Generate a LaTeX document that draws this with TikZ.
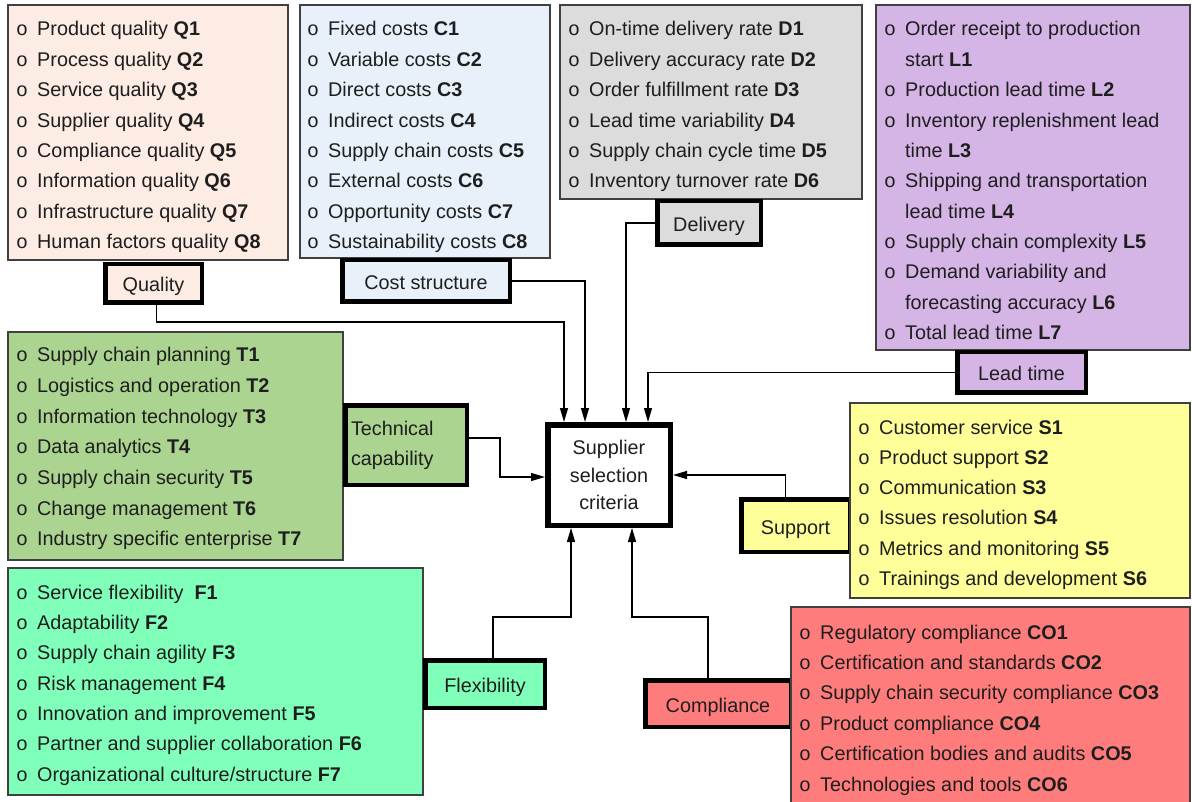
\documentclass[tikz,border=0pt]{standalone}
\usepackage{fontspec}
\setmainfont{Liberation Sans}
\newfontfamily\bulfont{Liberation Mono}
\usetikzlibrary{arrows.meta}
\definecolor{qcol}{RGB}{252,236,228}
\definecolor{ccol}{RGB}{232,241,250}
\definecolor{dcol}{RGB}{220,220,220}
\definecolor{lcol}{RGB}{213,180,230}
\definecolor{tcol}{RGB}{172,212,145}
\definecolor{scol}{RGB}{255,255,153}
\definecolor{fcol}{RGB}{128,255,186}
\definecolor{cocol}{RGB}{255,124,124}
\definecolor{txt}{RGB}{30,30,30}
\newcommand\itemfont{\fontsize{19.8}{24}\selectfont}
\newcommand\bulx{\makebox[21pt][l]{\bulfont o}}
\newcommand\indx{\hspace*{21pt}}
\newcommand\listbox[6]{\node[listbox, fill=#6, minimum width={#4-#2}, minimum height={#5-#3}] (#1) at ({(#2+#4)/2},{(#3+#5)/2}) {};}
\newcommand\labbox[7]{\node[labbox, fill=#6, minimum width={#4-#2-4.5}, minimum height={#5-#3-4.5}] (#1) at ({(#2+#4)/2},{(#3+#5)/2}) {#7};}
\newcommand\itemsat[5]{\foreach \itm [count=\i] in {#5} {\node[itm] (#1\i) at ({#2},{#3+#4*(\i-1)}) {\itm};}}
\tikzset{
  listbox/.style={draw=black!75, line width=1.2pt, inner sep=0pt},
  itm/.style={anchor=base west, inner sep=0pt, font=\itemfont, text=txt},
  labbox/.style={draw=black, line width=4.5pt, inner sep=0pt, text height=19pt, text depth=2pt, font=\itemfont, text=txt},
  conn/.style={line width=1.2pt, draw=black},
  arr/.style={conn, -{Triangle[length=14pt,width=8pt]}}
}
\begin{document}
\begin{tikzpicture}[x=1pt,y=-1pt]
\useasboundingbox[fill=white] (0,0) rectangle (1192,802);

% ---------- list boxes (top row, left) ----------
\listbox{qbox}{8}{5}{288}{260}{qcol}
\itemsat{q}{16}{36}{30.4}{%
{\bulx Product quality \textbf{Q1}},{\bulx Process quality \textbf{Q2}},{\bulx Service quality \textbf{Q3}},{\bulx Supplier quality \textbf{Q4}},{\bulx Compliance quality \textbf{Q5}},{\bulx Information quality \textbf{Q6}},{\bulx Infrastructure quality \textbf{Q7}},{\bulx Human factors quality \textbf{Q8}}}

\listbox{cbox}{300}{5}{550}{258}{ccol}
\itemsat{c}{307}{36}{30.4}{%
{\bulx Fixed costs \textbf{C1}},{\bulx Variable costs \textbf{C2}},{\bulx Direct costs \textbf{C3}},{\bulx Indirect costs \textbf{C4}},{\bulx Supply chain costs \textbf{C5}},{\bulx External costs \textbf{C6}},{\bulx Opportunity costs \textbf{C7}},{\bulx Sustainability costs \textbf{C8}}}

\listbox{dbox}{560}{5}{862}{199}{dcol}
\itemsat{d}{568}{36}{30.4}{%
{\bulx On-time delivery rate \textbf{D1}},{\bulx Delivery accuracy rate \textbf{D2}},{\bulx Order fulfillment rate \textbf{D3}},{\bulx Lead time variability \textbf{D4}},{\bulx Supply chain cycle time \textbf{D5}},{\bulx Inventory turnover rate \textbf{D6}}}

\listbox{lbox}{876}{5}{1190}{350}{lcol}
\itemsat{l}{884}{36}{30.35}{%
{\bulx Order receipt to production},{\indx start \textbf{L1}},{\bulx Production lead time \textbf{L2}},{\bulx Inventory replenishment lead},{\indx time \textbf{L3}},{\bulx Shipping and transportation},{\indx lead time \textbf{L4}},{\bulx Supply chain complexity \textbf{L5}},{\bulx Demand variability and},{\indx forecasting accuracy \textbf{L6}},{\bulx Total lead time \textbf{L7}}}

\listbox{tbox}{8}{332}{343}{560}{tcol}
\itemsat{t}{16}{362}{30.6}{%
{\bulx Supply chain planning \textbf{T1}},{\bulx Logistics and operation \textbf{T2}},{\bulx Information technology \textbf{T3}},{\bulx Data analytics \textbf{T4}},{\bulx Supply chain security \textbf{T5}},{\bulx Change management \textbf{T6}},{\bulx Industry specific enterprise \textbf{T7}}}

\listbox{fbox}{8}{568}{423}{795}{fcol}
\itemsat{f}{16}{599}{30.35}{%
{\bulx Service flexibility\ \ \textbf{F1}},{\bulx Adaptability \textbf{F2}},{\bulx Supply chain agility \textbf{F3}},{\bulx Risk management \textbf{F4}},{\bulx Innovation and improvement \textbf{F5}},{\bulx Partner and supplier collaboration \textbf{F6}},{\bulx Organizational culture/structure \textbf{F7}}}

% ---------- labels ----------
\labbox{qlab}{103}{262}{204}{305}{qcol}{Quality}
\labbox{clab}{340}{258}{512}{304}{ccol}{Cost structure}
\labbox{dlab}{655}{199}{763}{247}{dcol}{Delivery}
\labbox{llab}{955}{350}{1088}{395}{lcol}{Lead time}
\node[draw=black, line width=4.5pt, fill=tcol, inner sep=0pt,
      minimum width={469-343-4.5}, minimum height={487-403-4.5},
      text width=110pt, align=left, font=\fontsize{19.8}{30}\selectfont, text=txt]
      (tlab) at (406,445) {Technical\\capability};
\labbox{flab}{423}{658}{547}{710}{fcol}{Flexibility}
\labbox{slab}{739}{497}{852}{554}{scol}{Support}
\labbox{colab}{643}{678}{793}{729}{cocol}{Compliance}

% ---------- right-side lists (drawn over their labels) ----------
\listbox{sbox}{850}{403}{1190}{598}{scol}
\itemsat{s}{858}{434}{30.3}{%
{\bulx Customer service \textbf{S1}},{\bulx Product support \textbf{S2}},{\bulx Communication \textbf{S3}},{\bulx Issues resolution \textbf{S4}},{\bulx Metrics and monitoring \textbf{S5}},{\bulx Trainings and development \textbf{S6}}}

\listbox{cobox}{791}{607}{1190}{808}{cocol}
\itemsat{co}{799}{639}{30.4}{%
{\bulx Regulatory compliance \textbf{CO1}},{\bulx Certification and standards \textbf{CO2}},{\bulx Supply chain security compliance \textbf{CO3}},{\bulx Product compliance \textbf{CO4}},{\bulx Certification bodies and audits \textbf{CO5}},{\bulx Technologies and tools \textbf{CO6}}}

% ---------- centre ----------
\node[draw=black, line width=5.5pt, fill=white, inner sep=0pt,
      minimum width={128-5.5}, minimum height={106-5.5},
      align=center, font=\fontsize{19.8}{27.5}\selectfont, text=txt]
      (cen) at (609,475) {Supplier\\selection\\criteria};

% ---------- connectors ----------
\draw[arr] ([xshift=3pt]qlab.south) -- ++(0,17) -| ([xshift=-45pt]cen.north);
\draw[arr] (clab.east) -| ([xshift=-24pt]cen.north);
\draw[arr] (dlab.west) -| ([xshift=17pt]cen.north);
\draw[arr] (llab.west) -| ([xshift=39pt]cen.north);
\draw[arr] ([yshift=7pt]tlab.east) -- ++(31,0) |- ([yshift=-2pt]cen.west);
\draw[arr] ([xshift=-10pt]slab.north) |- (cen.east);
\draw[arr] ([xshift=8pt]flab.north) -- ++(0,-41) -| ([xshift=-38pt]cen.south);
\draw[arr] ([xshift=-10pt]colab.north) -- ++(0,-61) -| ([xshift=23pt]cen.south);
\end{tikzpicture}
\end{document}
